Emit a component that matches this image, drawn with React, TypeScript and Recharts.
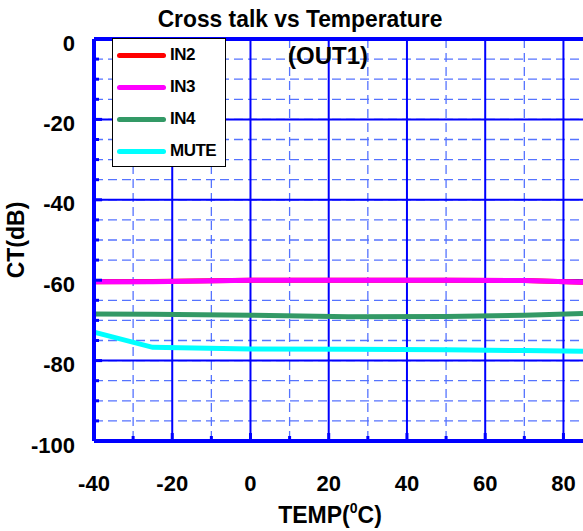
import React from 'react';
import { LineChart, Line, XAxis, YAxis, CartesianGrid, ReferenceLine } from 'recharts';

const temps = [-40, -25, 0, 25, 50, 70, 85];
const in2 = [-60.4, -60.3, -60.0, -60.0, -60.0, -60.1, -60.5];
const in3 = [-60.4, -60.4, -60.0, -60.0, -60.0, -60.1, -60.5];
const in4 = [-68.4, -68.5, -68.7, -69.1, -69.0, -68.7, -68.3];
const mute = [-72.9, -76.7, -77.1, -77.2, -77.3, -77.5, -77.7];

const xTicks = [-40, -30, -20, -10, 0, 10, 20, 30, 40, 50, 60, 70, 80];
const yTicks = [0, -5, -10, -15, -20, -25, -30, -35, -40, -45, -50, -55, -60, -65, -70, -75, -80, -85, -90, -95, -100];
const xMajor = [-40, -20, 0, 20, 40, 60, 80];
const xMinor = [-30, -10, 10, 30, 50, 70];
const yMajor = [0, -20, -40, -60, -80, -100];

const series = [
  { key: 'IN2', color: '#ff0000' },
  { key: 'IN3', color: '#ff00ff' },
  { key: 'IN4', color: '#339966' },
  { key: 'MUTE', color: '#00ffff' },
];

const data = temps.map((t, i) => ({ temp: t, IN2: in2[i], IN3: in3[i], IN4: in4[i], MUTE: mute[i] }));

const FONT = '"Liberation Sans", Arial, sans-serif';
const BLUE = '#0000ff';

const YTick = (props: any) => {
  const { x, y, payload } = props;
  const major = payload.value % 20 === 0;
  return (
    <g>
      <line x1={x} x2={x + (major ? 8 : 5)} y1={y} y2={y} stroke={BLUE} strokeWidth={3} />
      {major && (
        <text x={x - 19} y={y + 4} textAnchor="end" dominantBaseline="central" fontFamily={FONT} fontWeight="bold" fontSize={22} fill="#000">
          {payload.value}
        </text>
      )}
    </g>
  );
};

const XTick = (props: any) => {
  const { x, y, payload } = props;
  const major = payload.value % 20 === 0;
  return (
    <g>
      <line x1={x} x2={x} y1={y} y2={y - (major ? 8 : 5)} stroke={BLUE} strokeWidth={3} />
      {major && (
        <text x={x} y={y + 42} textAnchor="middle" dominantBaseline="central" fontFamily={FONT} fontWeight="bold" fontSize={22} fill="#000">
          {payload.value}
        </text>
      )}
    </g>
  );
};

const LegendBox = () => (
  <div style={{ position: 'absolute', left: 112, top: 38, width: 114, height: 129, border: '1px solid #000', background: '#fff', boxSizing: 'border-box', fontWeight: 'bold', fontSize: 17 }}>
    {series.map((s, i) => (
      <div key={s.key} style={{ position: 'absolute', left: 4, top: 8 + i * 32, display: 'flex', alignItems: 'center', height: 16 }}>
        <div style={{ width: 49, height: 5, borderRadius: 3, background: s.color }} />
        <span style={{ marginLeft: 4, letterSpacing: -0.5 }}>{s.key}</span>
      </div>
    ))}
  </div>
);

export default function App() {
  return (
    <div style={{ position: 'absolute', left: 0, top: 0, width: 583, height: 531, background: '#fff', fontFamily: FONT }}>
      <LineChart width={583} height={531} data={data} margin={{ top: 39, right: 0, bottom: 0, left: 0 }}>
        <CartesianGrid
          horizontalValues={yTicks}
          verticalValues={xMinor}
          stroke="#5573ff"
          strokeDasharray="9 5"
          strokeWidth={1.3}
        />
        <CartesianGrid horizontalValues={yMajor} verticalValues={xMajor} stroke={BLUE} strokeWidth={2} />
        <XAxis
          dataKey="temp"
          type="number"
          domain={[-40, 85]}
          ticks={xTicks}
          height={90}
          tickSize={0}
          tickMargin={0}
          tick={<XTick />}
          axisLine={{ stroke: BLUE, strokeWidth: 4 }}
          interval={0}
        />
        <YAxis
          type="number"
          domain={[-100, 0]}
          ticks={yTicks}
          width={94}
          tickSize={0}
          tickMargin={0}
          tick={<YTick />}
          axisLine={{ stroke: BLUE, strokeWidth: 4 }}
          interval={0}
        />
        <ReferenceLine y={0} stroke={BLUE} strokeWidth={4} />
        {series.map(s => (
          <Line
            key={s.key}
            type="linear"
            dataKey={s.key}
            stroke={s.color}
            strokeWidth={5}
            dot={false}
            isAnimationActive={false}
          />
        ))}
      </LineChart>
      <LegendBox />
      <div style={{ position: 'absolute', left: 0, width: 600, top: 5, textAlign: 'center', fontWeight: 'bold', fontSize: 24, transform: 'scaleX(0.95)' }}>
        Cross talk vs Temperature
      </div>
      <div style={{ position: 'absolute', left: 228, width: 200, top: 42, textAlign: 'center', fontWeight: 'bold', fontSize: 24 }}>
        (OUT1)
      </div>
      <div style={{ position: 'absolute', left: 180, width: 300, top: 502, textAlign: 'center', fontWeight: 'bold', fontSize: 23 }}>
        TEMP(<sup style={{ fontSize: 14, verticalAlign: 'top', position: 'relative', top: -2 }}>0</sup>C)
      </div>
      <div style={{ position: 'absolute', left: 16, top: 240, transform: 'translate(-50%, -50%) rotate(-90deg)', fontWeight: 'bold', fontSize: 23, whiteSpace: 'nowrap' }}>
        CT(dB)
      </div>
    </div>
  );
}
